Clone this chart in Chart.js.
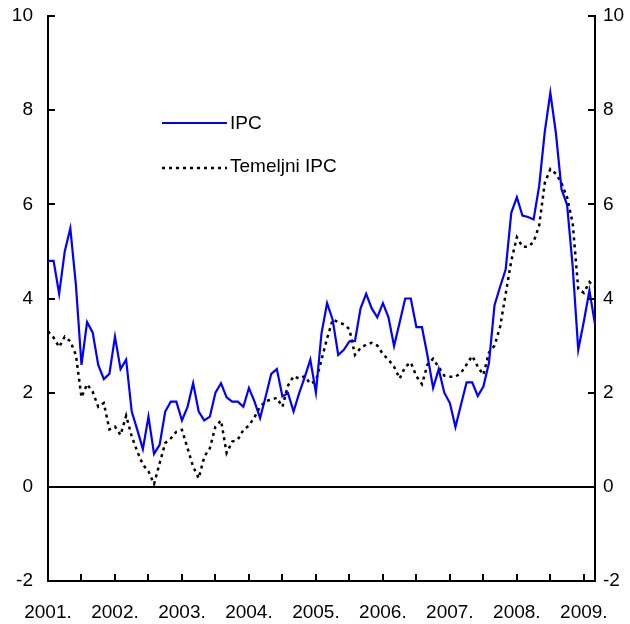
<!DOCTYPE html>
<html>
<head>
<meta charset="utf-8">
<script src="https://cdn.jsdelivr.net/npm/chart.js@4.4.1/dist/chart.umd.min.js"></script>
<style>
    html, body { margin: 0; padding: 0; background: #fff; overflow: hidden; }
    #chart { display: block; }
</style>
</head>
<body>
<canvas id="chart" width="630" height="624"></canvas>
<script>
// year labels on the x axis, one every 12 months
const years = ["2001.", "2002.", "2003.", "2004.", "2005.", "2006.", "2007.", "2008.", "2009."];

// monthly values, Jan 2001 - Mar 2009
const ipc = [
    4.80, 4.80, 4.10, 5.00, 5.49, 4.29, 2.59, 3.50, 3.28, 2.59, 2.29, 2.40,
    3.19, 2.50, 2.70, 1.60, 1.21, 0.80, 1.49, 0.70, 0.89, 1.60, 1.81, 1.81,
    1.41, 1.70, 2.20, 1.60, 1.41, 1.49, 2.00, 2.20, 1.90, 1.81, 1.81, 1.70,
    2.10, 1.81, 1.46, 1.92, 2.40, 2.50, 1.92, 1.99, 1.60, 1.99, 2.33, 2.70,
    2.00, 3.26, 3.90, 3.55, 2.80, 2.91, 3.09, 3.10, 3.79, 4.10, 3.79, 3.60,
    3.90, 3.60, 2.99, 3.49, 4.00, 4.00, 3.39, 3.39, 2.78, 2.10, 2.50, 2.00,
    1.78, 1.27, 1.75, 2.22, 2.22, 1.93, 2.13, 2.63, 3.86, 4.25, 4.62, 5.82,
    6.15, 5.76, 5.73, 5.68, 6.39, 7.54, 8.37, 7.51, 6.32, 5.99, 4.68, 2.91,
    3.51, 4.17, 3.45
];
const temeljni = [
    3.30, 3.17, 2.97, 3.19, 3.09, 2.80, 1.90, 2.18, 2.02, 1.70, 1.78, 1.22,
    1.28, 1.10, 1.51, 1.07, 0.75, 0.47, 0.33, 0.06, 0.50, 0.93, 1.03, 1.17,
    1.21, 0.82, 0.43, 0.18, 0.64, 0.82, 1.28, 1.41, 0.72, 0.96, 1.00, 1.21,
    1.30, 1.48, 1.70, 1.82, 1.85, 1.89, 1.70, 2.15, 2.35, 2.30, 2.35, 2.19,
    2.25, 2.70, 3.15, 3.55, 3.50, 3.45, 3.35, 2.80, 2.95, 3.02, 3.06, 3.00,
    2.82, 2.70, 2.55, 2.30, 2.55, 2.64, 2.35, 2.18, 2.60, 2.72, 2.54, 2.36,
    2.34, 2.34, 2.42, 2.60, 2.78, 2.55, 2.38, 2.85, 3.00, 3.40, 4.10, 4.80,
    5.30, 5.10, 5.10, 5.20, 5.55, 6.45, 6.75, 6.65, 6.45, 6.15, 5.60, 4.20,
    4.12, 4.35, 4.25
];

const yTicks = [-2, 0, 2, 4, 6, 8, 10];
const seriesNames = ["IPC", "Temeljni IPC"];

const months = ipc.map((v, i) => `${2001 + Math.floor(i / 12)}-${(i % 12) + 1}`);
const FONT = { family: "Arial, 'Liberation Sans', sans-serif", size: 19 };

// inward tick marks, zero line and the in-plot legend
const framePlugin = {
    id: "frame",
    beforeDatasetsDraw(chart) {
        const { ctx, chartArea: a, scales: { y } } = chart;
        ctx.save();
        ctx.strokeStyle = "#000";
        ctx.lineWidth = 2;
        const y0 = Math.round(y.getPixelForValue(0));
        ctx.beginPath();
        ctx.moveTo(a.left, y0);
        ctx.lineTo(a.right, y0);
        ctx.stroke();
        ctx.restore();
    },
    afterDatasetsDraw(chart) {
        const { ctx, chartArea: a, scales: { x, y } } = chart;
        ctx.save();
        ctx.strokeStyle = "#000";
        ctx.lineWidth = 2;
        ctx.beginPath();
        yTicks.forEach((v) => {
            const py = Math.round(y.getPixelForValue(v));
            ctx.moveTo(a.left, py);
            ctx.lineTo(a.left + 7, py);
            ctx.moveTo(a.right, py);
            ctx.lineTo(a.right - 7, py);
        });
        for (let i = 0; i < months.length; i += 6) {
            const px = Math.round(x.getPixelForValue(i));
            ctx.moveTo(px, a.bottom);
            ctx.lineTo(px, a.bottom - 7);
        }
        ctx.stroke();

        // legend
        ctx.font = `${FONT.size}px ${FONT.family}`;
        ctx.fillStyle = "#000";
        ctx.textBaseline = "middle";
        ctx.textAlign = "left";

        ctx.strokeStyle = "#0000ff";
        ctx.lineWidth = 2;
        ctx.beginPath();
        ctx.moveTo(162, 123);
        ctx.lineTo(227, 123);
        ctx.stroke();
        ctx.fillText(seriesNames[0], 230, 124);

        ctx.strokeStyle = "#000";
        ctx.lineWidth = 2.5;
        ctx.setLineDash([3, 4]);
        ctx.beginPath();
        ctx.moveTo(162, 168);
        ctx.lineTo(227, 168);
        ctx.stroke();
        ctx.setLineDash([]);
        ctx.fillText(seriesNames[1], 230, 167);
        ctx.restore();
    },
};

// fixed axis box sizes so the plot area matches the reference
function fitY(width) {
    return (scale) => {
        scale.width = width;
        scale.paddingTop = 0;
        scale.paddingBottom = 0;
    };
}

const ctx = document.getElementById("chart").getContext("2d");
new Chart(ctx, {
    type: "line",
    data: {
        labels: months,
        datasets: [
            {
                label: seriesNames[0],
                data: ipc,
                borderColor: "#0000ff",
                borderWidth: 2.2,
                pointRadius: 0,
                tension: 0,
                fill: false,
            },
            {
                label: seriesNames[1],
                data: temeljni,
                borderColor: "#000000",
                borderWidth: 2.5,
                borderDash: [3, 4],
                pointRadius: 0,
                tension: 0,
                fill: false,
            },
        ],
    },
    options: {
        responsive: false,
        animation: false,
        maintainAspectRatio: false,
        devicePixelRatio: 1,
        layout: { padding: { top: 16, left: 0, right: 0, bottom: 0 } },
        plugins: {
            legend: { display: false },
            tooltip: { enabled: false },
        },
        scales: {
            x: {
                type: "category",
                offset: false,
                grid: { display: false, drawTicks: false },
                border: { display: true, color: "#000", width: 2 },
                ticks: {
                    autoSkip: false,
                    maxRotation: 0,
                    minRotation: 0,
                    padding: 20,
                    color: "#000",
                    font: FONT,
                    callback: (val, index) => (index % 12 === 0 ? years[index / 12] : ""),
                },
                afterFit: (scale) => {
                    scale.height = 43;
                    scale.paddingLeft = 0;
                    scale.paddingRight = 0;
                },
            },
            y: {
                position: "left",
                min: -2,
                max: 10,
                grid: { display: false, drawTicks: false },
                border: { display: true, color: "#000", width: 2 },
                ticks: { stepSize: 2, padding: 15, color: "#000", font: FONT },
                afterFit: fitY(48),
            },
            y2: {
                position: "right",
                display: true,
                min: -2,
                max: 10,
                grid: { display: false, drawTicks: false },
                border: { display: true, color: "#000", width: 2 },
                ticks: { stepSize: 2, padding: 8, color: "#000", font: FONT },
                afterFit: fitY(35),
            },
        },
    },
    plugins: [framePlugin],
});
</script>
</body>
</html>
